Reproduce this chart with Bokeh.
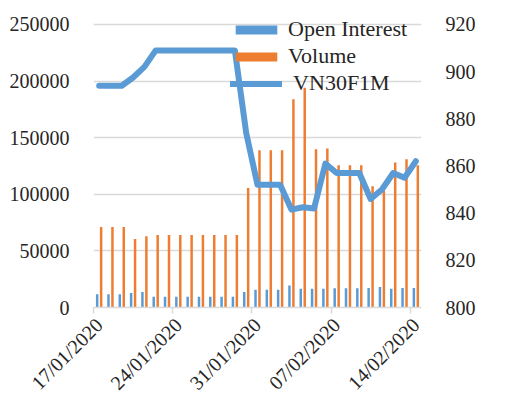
import math
from bokeh.plotting import figure
from bokeh.models import (Range1d, LinearAxis, FixedTicker, Legend, LegendItem,
                          ColumnDataSource, NumeralTickFormatter)
from bokeh.embed import file_html
from bokeh.resources import INLINE

dates = ["17/01/2020", "18/01/2020", "19/01/2020", "20/01/2020", "21/01/2020",
         "22/01/2020", "23/01/2020", "24/01/2020", "25/01/2020", "26/01/2020",
         "27/01/2020", "28/01/2020", "29/01/2020", "30/01/2020", "31/01/2020",
         "01/02/2020", "02/02/2020", "03/02/2020", "04/02/2020", "05/02/2020",
         "06/02/2020", "07/02/2020", "08/02/2020", "09/02/2020", "10/02/2020",
         "11/02/2020", "12/02/2020", "13/02/2020", "14/02/2020"]

open_interest = [11800, 11800, 11800, 12900, 13800, 9400, 9400, 9400, 9400, 9400,
                 9400, 9400, 9400, 13800, 15600, 15600, 15600, 19400, 16500, 16500,
                 16500, 17000, 17000, 17000, 17300, 18000, 16500, 17300, 17300]

volume = [71000, 71000, 71000, 60500, 63000, 64000, 64000, 64000, 64000, 64000,
          64000, 64000, 64000, 105500, 139000, 139000, 139000, 184000, 194000, 139700,
          140500, 125600, 125600, 125600, 107000, 103000, 128000, 131000, 125600]

vn30f1m = [894, 894, 894, 897.5, 902, 909, 909, 909, 909, 909,
           909, 909, 909, 874, 852, 852, 852, 841.5, 842.5, 842,
           861, 857, 857, 857, 846, 850, 857, 855, 862]

tick_labels = ["17/01/2020", "24/01/2020", "31/01/2020", "07/02/2020", "14/02/2020"]
left_ticks = [0, 50000, 100000, 150000, 200000, 250000]
right_ticks = [800, 820, 840, 860, 880, 900, 920]

BLUE = "#5B9BD5"
ORANGE = "#ED7D31"
GRID = "#D9D9D9"
TXT = "#262626"
FONT = "serif"

AXIS_PX = 284
HEAD_PX = 10
left_end = left_ticks[-1] + (left_ticks[-1] - left_ticks[0]) * HEAD_PX / AXIS_PX
right_end = right_ticks[-1] + (right_ticks[-1] - right_ticks[0]) * HEAD_PX / AXIS_PX

n = len(dates)
xc = [i + 0.5 for i in range(n)]
src = ColumnDataSource(dict(
    x_oi=[x - 0.175 for x in xc],
    x_vol=[x + 0.175 for x in xc],
    x=xc,
    oi=open_interest,
    vol=volume,
    vn=vn30f1m,
))

p = figure(width=489, height=404, output_backend="svg", toolbar_location=None,
           x_range=Range1d(0, n), y_range=Range1d(left_ticks[0], left_end),
           min_border_left=93, min_border_right=68, min_border_top=24 - HEAD_PX,
           min_border_bottom=96)
p.extra_y_ranges = {"px": Range1d(right_ticks[0], right_end)}

p.outline_line_color = None
p.background_fill_color = "white"
p.border_fill_color = "white"

r_oi = p.vbar(x="x_oi", top="oi", width=0.22, source=src, fill_color=BLUE, line_color=None)
r_vol = p.vbar(x="x_vol", top="vol", width=0.22, source=src, fill_color=ORANGE, line_color=None)
r_vn = p.line(x="x", y="vn", source=src, y_range_name="px", line_color=BLUE, line_width=6,
              line_join="round", line_cap="round")

p.xgrid.visible = False
p.ygrid.grid_line_color = GRID
p.ygrid.grid_line_width = 1.5
p.ygrid.ticker = FixedTicker(ticks=left_ticks)

la = p.yaxis[0]
la.ticker = FixedTicker(ticks=left_ticks)
la.formatter = NumeralTickFormatter(format="0")
la.axis_line_color = None
la.major_tick_line_color = None
la.minor_tick_line_color = None
la.major_label_text_font = FONT
la.major_label_text_font_size = "20px"
la.major_label_text_color = TXT
la.major_label_standoff = 18

ra = LinearAxis(y_range_name="px", ticker=FixedTicker(ticks=right_ticks))
ra.formatter = NumeralTickFormatter(format="0")
ra.axis_line_color = None
ra.major_tick_line_color = None
ra.minor_tick_line_color = None
ra.major_label_text_font = FONT
ra.major_label_text_font_size = "20px"
ra.major_label_text_color = TXT
ra.major_label_standoff = 18
p.add_layout(ra, "right")

xa = p.xaxis[0]
label_idx = [dates.index(t) for t in tick_labels]
xa.ticker = FixedTicker(ticks=[i + 0.5 for i in label_idx],
                        minor_ticks=[float(i) for i in label_idx])
xa.major_label_overrides = {i + 0.5: dates[i] for i in label_idx}
xa.major_label_orientation = math.pi / 4
xa.major_tick_out = 0
xa.major_tick_in = 0
xa.minor_tick_out = 6
xa.minor_tick_in = 0
xa.minor_tick_line_color = GRID
xa.minor_tick_line_width = 1.5
xa.axis_line_color = GRID
xa.axis_line_width = 1.5
xa.major_label_text_font = FONT
xa.major_label_text_font_size = "20px"
xa.major_label_text_color = TXT
xa.major_label_standoff = 8

legend = Legend(items=[
    LegendItem(label="Open Interest", renderers=[r_oi]),
    LegendItem(label="Volume", renderers=[r_vol]),
    LegendItem(label=" VN30F1M", renderers=[r_vn]),
], location=(137, 211))
legend.glyph_width = 52
legend.glyph_height = 11
legend.label_standoff = 6
legend.spacing = 1
legend.padding = 0
legend.margin = 0
legend.border_line_color = None
legend.background_fill_alpha = 0
legend.label_text_font = FONT
legend.label_text_font_size = "22px"
legend.label_text_color = TXT
p.add_layout(legend, "center")

open("out.html", "w").write(file_html(p, INLINE))
